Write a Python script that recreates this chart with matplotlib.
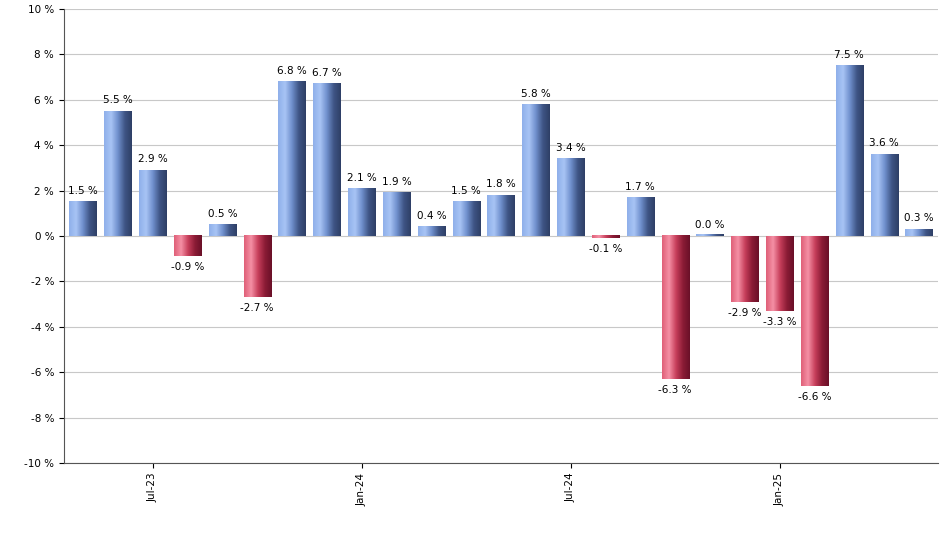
import matplotlib
matplotlib.use("Agg")
import matplotlib.pyplot as plt
import numpy as np
from matplotlib.colors import LinearSegmentedColormap

months = ["May-23","Jun-23","Jul-23","Aug-23","Sep-23","Oct-23","Nov-23","Dec-23",
          "Jan-24","Feb-24","Mar-24","Apr-24","May-24","Jun-24","Jul-24","Aug-24",
          "Sep-24","Oct-24","Nov-24","Dec-24","Jan-25","Feb-25","Mar-25","Apr-25","May-25"]
values = [1.5,5.5,2.9,-0.9,0.5,-2.7,6.8,6.7,2.1,1.9,0.4,1.5,1.8,5.8,3.4,-0.1,1.7,
          -6.3,0.0,-2.9,-3.3,-6.6,7.5,3.6,0.3]
tick_labels = {"Jul-23":"Jul-23","Jan-24":"Jan-24","Jul-24":"Jul-24","Jan-25":"Jan-25"}

fig = plt.figure(figsize=(9.4,5.5), dpi=100)
ax = fig.add_axes([0.068, 0.158, 0.93, 0.826])
blue = LinearSegmentedColormap.from_list("b", ["#8fb0ea","#a8c4f5","#6f8fcc","#3f5585","#2e3f66"])
red = LinearSegmentedColormap.from_list("r", ["#e06078","#f590a5","#c8405c","#8c1c36","#6a1028"])
grad = np.linspace(0,1,64).reshape(1,-1)
x = np.arange(len(values))
w = 0.78
ax.set_xlim(-0.55, len(values)-0.45)
ax.set_ylim(-10,10)
for xi, v in zip(x, values):
    cm = blue if v >= 0 else red
    h = v if abs(v) > 0.05 else 0.06
    ax.imshow(grad, cmap=cm, aspect="auto", extent=[xi-w/2, xi+w/2, 0, h], zorder=3)
    ax.text(xi, (v+0.25) if v >= 0 else (v-0.25), f"{v:.1f} %", ha="center",
            va="bottom" if v >= 0 else "top", fontsize=7.5, zorder=4)
ax.set_xlim(-0.55, len(values)-0.45)
ax.set_ylim(-10,10)
ax.set_yticks(range(-10,11,2))
ax.set_yticklabels([f"{t} %" for t in range(-10,11,2)], fontsize=7.5)
pos = [i for i,m in enumerate(months) if m in tick_labels]
ax.set_xticks(pos)
ax.set_xticklabels([months[i] for i in pos], rotation=90, fontsize=7.5)
ax.grid(axis="y", color="#c8c8c8", lw=0.8, zorder=0)
for s in ["top","right"]:
    ax.spines[s].set_visible(False)
ax.spines["left"].set_color("#555555")
ax.spines["bottom"].set_color("#555555")
fig.savefig("out.png")
